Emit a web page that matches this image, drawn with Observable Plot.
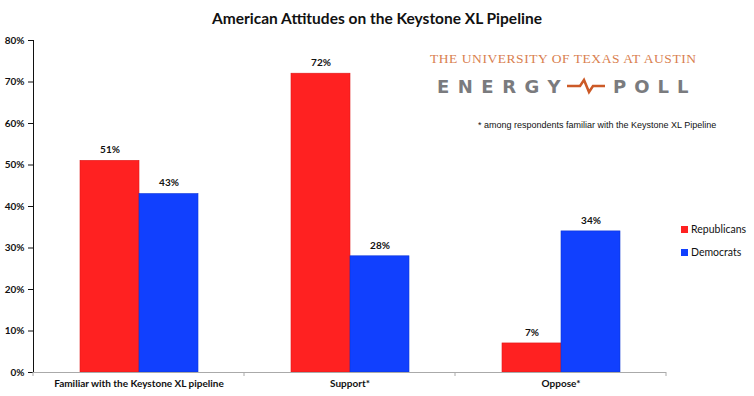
<!DOCTYPE html>
<html><head><meta charset="utf-8">
<script src="https://cdn.jsdelivr.net/npm/d3@7"></script>
<script src="https://cdn.jsdelivr.net/npm/@observablehq/plot@0.6"></script>
<style>
body{margin:0;background:#fff;}
#wrap{position:relative;width:754px;height:396px;font-family:Lato,"Open Sans",sans-serif;overflow:hidden;}
#title{position:absolute;left:0;top:0;width:754px;height:32px;text-align:center;font-weight:bold;font-size:15.5px;line-height:36px;color:#111;}
#chart{position:absolute;left:0;top:32px;}
#chart svg text{font-weight:bold;}
.leg{position:absolute;left:681px;font-size:10.5px;color:#111;display:flex;align-items:center;white-space:nowrap;}
.leg span.sw{display:inline-block;width:7px;height:7px;margin-right:3px;}
#logo1{position:absolute;left:430px;top:51px;font-family:"Liberation Serif",serif;font-size:13.5px;letter-spacing:0.55px;color:#D9804F;white-space:nowrap;}
#logo2{position:absolute;left:437px;top:76px;font-family:"DejaVu Sans",sans-serif;font-weight:bold;font-size:18px;color:#7a7b7e;white-space:nowrap;}
#note{position:absolute;left:478px;top:120px;font-family:"Liberation Sans",Arial,sans-serif;font-size:9px;color:#111;white-space:nowrap;}
</style></head>
<body>
<div id="wrap">
  <div id="title">American Attitudes on the Keystone XL Pipeline</div>
  <div id="chart"></div>
  <div id="logo1">THE UNIVERSITY OF TEXAS AT AUSTIN</div>
  <div id="logo2"><span style="letter-spacing:8.5px">ENERGY</span><svg width="38" height="20" style="vertical-align:-3px;margin:0 8px 0 -2px"><polyline points="0,10 13,10 17,4 22,16 26,10 38,10" fill="none" stroke="#CC5A27" stroke-width="2.5"/></svg><span style="letter-spacing:8px">POLL</span></div>
  <div id="note">* among respondents familiar with the Keystone XL Pipeline</div>
  <div class="leg" style="top:223px"><span class="sw" style="background:#FF2121"></span>Republicans</div>
  <div class="leg" style="top:246px"><span class="sw" style="background:#1140FE"></span>Democrats</div>
</div>
<script>
const categories = ["Familiar with the Keystone XL pipeline", "Support*", "Oppose*"];
const parties = ["Republicans", "Democrats"];
const republicans = [51, 72, 7];
const democrats = [43, 28, 34];
const yTicks = [0, 10, 20, 30, 40, 50, 60, 70, 80];
const colors = ["#FF2121", "#1140FE"];

const rows = [];
categories.forEach((c, i) => {
  rows.push({category: c, party: parties[0], value: republicans[i]});
  rows.push({category: c, party: parties[1], value: democrats[i]});
});

const plot = Plot.plot({
  width: 754, height: 364,
  marginLeft: 33, marginRight: 88, marginTop: 8, marginBottom: 24,
  style: {fontFamily: "Lato, sans-serif", fontSize: "10px", color: "#111", background: "transparent"},
  fx: {domain: categories, padding: 0, label: null, axis: "bottom", tickSize: 0, tickPadding: 7, fontSize: 10.5},
  x: {domain: parties, paddingInner: 0, paddingOuter: 0.767, axis: null},
  y: {domain: [0, 80], ticks: yTicks, tickFormat: d => d + "%", label: null, tickSize: 5, tickPadding: 4, line: true},
  color: {domain: parties, range: colors},
  marks: [
    Plot.barY(rows, {fx: "category", x: "party", y: "value", fill: "party", stroke: d => d.party === parties[0] ? "#e01818" : "#0d36d8", strokeWidth: 0.6}),
    Plot.text(rows, {fx: "category", x: "party", y: "value", text: d => d.value + "%", dy: -11, fontWeight: "bold", fontSize: 10}),
    Plot.ruleY([0], {stroke: "#aaa"})
  ]
});
document.getElementById("chart").appendChild(plot);

const svg = d3.select(plot);
svg.selectAll('[aria-label="y-axis tick"]').attr("stroke", "#aaa");
svg.selectAll('[aria-label="y-axis line"]').attr("stroke", "#aaa");

// band boundary ticks on the category axis
const fxs = plot.scale("fx");
const ys = plot.scale("y");
const r = fxs.range;
const step = (r[1] - r[0]) / categories.length;
const y0 = ys.apply ? ys.apply(0) : 340;
const g = svg.append("g").attr("stroke", "#aaa");
d3.range(categories.length + 1).forEach(i => {
  const xx = r[0] + i * step;
  g.append("line").attr("x1", xx).attr("x2", xx).attr("y1", y0).attr("y2", y0 + 4);
});
</script>
</body></html>
